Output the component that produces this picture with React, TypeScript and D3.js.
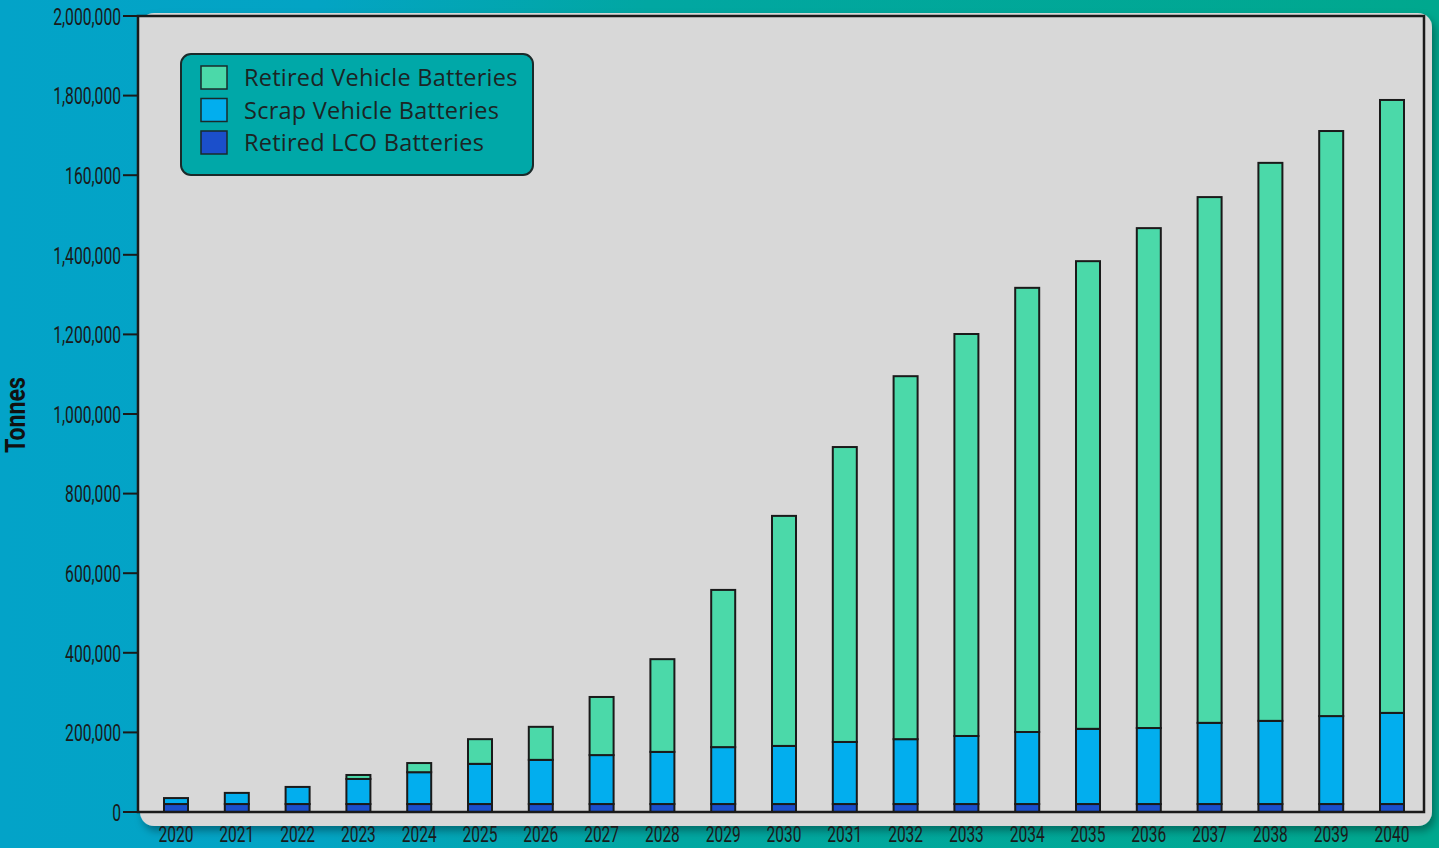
import React from "react";
import * as d3 from "d3";

const years = [
  "2020", "2021", "2022", "2023", "2024", "2025", "2026", "2027", "2028", "2029", "2030",
  "2031", "2032", "2033", "2034", "2035", "2036", "2037", "2038", "2039", "2040",
];
const retiredLco = [
  20000, 20000, 20000, 20000, 20000, 20000, 20000, 20000, 20000, 20000, 20000,
  20000, 20000, 20000, 20000, 20000, 20000, 20000, 20000, 20000, 20000,
];
const scrapVehicle = [
  15000, 28000, 43000, 63000, 80000, 101000, 111000, 123000, 131000, 143000, 146000,
  156000, 163000, 171000, 181000, 189000, 191000, 204000, 209000, 221000, 229000,
];
const retiredVehicle = [
  0, 0, 0, 10000, 23000, 62000, 83000, 146000, 233000, 395000, 578000,
  741000, 912000, 1010000, 1116000, 1175000, 1256000, 1321000, 1402000, 1470000, 1540000,
];
const yTicks = [0, 200000, 400000, 600000, 800000, 1000000, 1200000, 1400000, 1600000, 1800000, 2000000];
const yTickLabels = [
  "0", "200,000", "400,000", "600,000", "800,000", "1,000,000", "1,200,000",
  "1,400,000", "160,000", "1,800,000", "2,000,000",
];
const seriesNames = ["Retired Vehicle Batteries", "Scrap Vehicle Batteries", "Retired LCO Batteries"];
const seriesColors = ["#4bd9a9", "#02aeee", "#1b4fcb"];

const W = 1439;
const H = 848;
const plot = { left: 138, right: 1424, top: 16, bottom: 812 };
const tickFont = "Roboto, 'Liberation Sans', sans-serif";

export default function App() {
  const y = d3.scaleLinear().domain([0, 2000000]).range([plot.bottom, plot.top]);
  const x = d3.scalePoint<string>().domain(years).range([176, 1392]);
  const barW = 24;

  const rows = years.map((yr, i) => ({
    year: yr,
    lco: retiredLco[i],
    scrap: scrapVehicle[i],
    retired: retiredVehicle[i],
  }));
  const stack = d3.stack<any>().keys(["lco", "scrap", "retired"]);
  const layers = stack(rows);
  const layerColor: Record<string, string> = {
    lco: seriesColors[2],
    scrap: seriesColors[1],
    retired: seriesColors[0],
  };

  return (
    <svg width={W} height={H} style={{ position: "absolute", left: 0, top: 0, display: "block" }}>
      <defs>
        <linearGradient id="bg" x1="0" x2="1" y1="0" y2="0">
          <stop offset="0" stopColor="#03a3c8" />
          <stop offset="0.22" stopColor="#03a4c4" />
          <stop offset="0.45" stopColor="#01a7a2" />
          <stop offset="1" stopColor="#00a88e" />
        </linearGradient>
        <filter id="shadow" x="-5%" y="-5%" width="110%" height="115%">
          <feDropShadow dx="3" dy="5" stdDeviation="4" floodColor="#000" floodOpacity="0.35" />
        </filter>
      </defs>
      <rect x={0} y={0} width={W} height={H} fill="url(#bg)" />

      {/* panel behind the plot */}
      <rect x={140} y={13} width={1292} height={813} rx={14} fill="#d8d8d8" filter="url(#shadow)" />
      <rect x={plot.left} y={plot.top} width={plot.right - plot.left} height={plot.bottom - plot.top} fill="#d8d8d8" />

      {/* bars */}
      {layers.map((layer) =>
        layer.map((d, i) =>
          d[1] - d[0] > 0 ? (
            <rect
              key={layer.key + i}
              x={(x(rows[i].year) as number) - barW / 2}
              y={y(d[1])}
              width={barW}
              height={y(d[0]) - y(d[1])}
              fill={layerColor[layer.key]}
              stroke="#1a1a1a"
              strokeWidth={2}
            />
          ) : null
        )
      )}

      {/* plot frame */}
      <rect
        x={plot.left}
        y={plot.top}
        width={plot.right - plot.left}
        height={plot.bottom - plot.top}
        fill="none"
        stroke="#1a1a1a"
        strokeWidth={2.5}
      />

      {/* y axis */}
      {yTicks.map((t, i) => (
        <g key={t}>
          <line x1={123} x2={plot.left} y1={y(t)} y2={y(t)} stroke="#1a1a1a" strokeWidth={2} />
          <text
            transform={`translate(121,${y(t) + 8.8}) scale(0.64,1)`}
            textAnchor="end"
            fontFamily={tickFont}
            fontSize={24.5}
            fill="#1a1a1a"
          >
            {yTickLabels[i]}
          </text>
        </g>
      ))}
      <text
        transform={`translate(25,${415}) rotate(-90) scale(0.86,1)`}
        textAnchor="middle"
        fontFamily="Roboto, 'Liberation Sans', sans-serif"
        fontWeight="bold"
        fontSize={27}
        fill="#111"
      >
        Tonnes
      </text>

      {/* x axis labels */}
      {years.map((yr) => (
        <text
          key={yr}
          transform={`translate(${x(yr) as number},842) scale(0.69,1)`}
          textAnchor="middle"
          fontFamily={tickFont}
          fontSize={22.5}
          fill="#1a1a1a"
        >
          {yr}
        </text>
      ))}

      {/* legend */}
      <rect x={181} y={54} width={352} height={121} rx={10} fill="#00a8a8" stroke="#1a2a2a" strokeWidth={2} />
      {seriesNames.map((name, i) => (
        <g key={name}>
          <rect x={201} y={66 + i * 32.5} width={26} height={23} fill={seriesColors[i]} stroke="#1a2a2a" strokeWidth={1.5} />
          <text
            x={244}
            y={78 + i * 32.5}
            dy="0.36em"
            fontFamily="'Open Sans', sans-serif"
            fontSize={23.5}
            letterSpacing={0.25}
            fill="#1c2424"
          >
            {name}
          </text>
        </g>
      ))}
    </svg>
  );
}
